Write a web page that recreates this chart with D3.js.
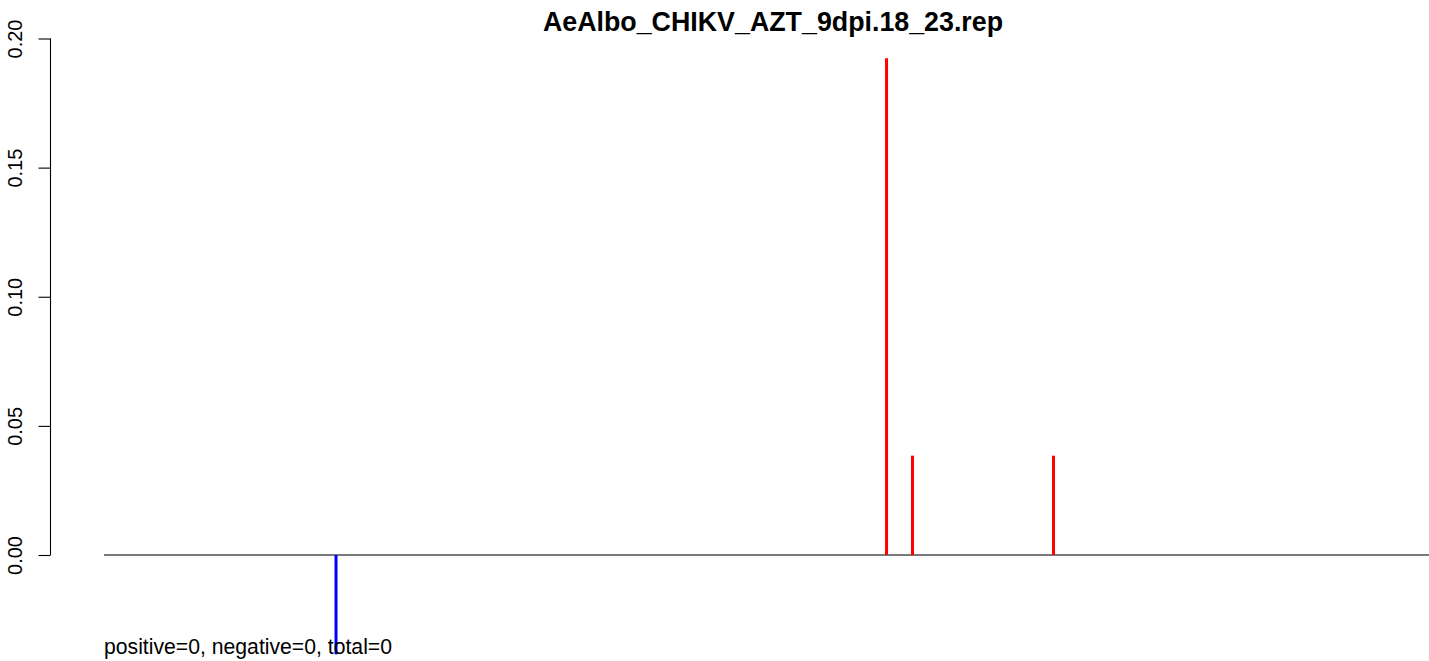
<!DOCTYPE html>
<html>
<head>
<meta charset="utf-8">
<script src="https://cdn.jsdelivr.net/npm/d3@7"></script>
<style>
  html, body { margin: 0; padding: 0; background: #fff; }
  svg { display: block; }
</style>
</head>
<body>
<svg id="chart" width="1429" height="661"></svg>
<script>
// ---- data ----
const title = "AeAlbo_CHIKV_AZT_9dpi.18_23.rep";
const footer = "positive=0, negative=0, total=0";
const yTicks = [0.00, 0.05, 0.10, 0.15, 0.20];
const positivePositions = [590.6, 610.2, 716.6];
const positiveValues = [5 / 26, 1 / 26, 1 / 26];
const negativePositions = [175.1];
const negativeValues = [-1 / 26];
const xDomain = [0, 1000];
const yDomain = [0, 0.2];

// ---- layout ----
const svg = d3.select("#chart");
const x = d3.scaleLinear().domain(xDomain).range([104, 1429]);
const y = d3.scaleLinear().domain(yDomain).range([555, 38.5]);

// title
svg.append("text")
  .attr("x", 773).attr("y", 31)
  .attr("text-anchor", "middle")
  .attr("font-family", "Liberation Sans, Arial, sans-serif")
  .attr("font-weight", "bold")
  .attr("font-size", 26.8)
  .text(title);

// y axis
const yAxis = d3.axisLeft(y)
  .tickValues(yTicks)
  .tickSize(12)
  .tickPadding(0)
  .tickFormat(d3.format(".2f"));
const gy = svg.append("g").attr("transform", "translate(50.5,0)").call(yAxis);
gy.select(".domain").remove();
gy.append("line")
  .attr("x1", 0).attr("x2", 0)
  .attr("y1", y(0.2)).attr("y2", y(0))
  .attr("stroke", "#000").attr("stroke-width", 1.1);
gy.selectAll(".tick line").attr("stroke", "#000").attr("stroke-width", 1.1);
gy.selectAll(".tick text")
  .attr("font-family", "Liberation Sans, Arial, sans-serif")
  .attr("font-size", 20)
  .attr("fill", "#000")
  .attr("text-anchor", "middle")
  .attr("dy", 0)
  .attr("x", 0).attr("y", 0)
  .attr("transform", "translate(-28.5,0) rotate(-90)");

// zero line
svg.append("line")
  .attr("x1", x(xDomain[0])).attr("x2", x(xDomain[1]))
  .attr("y1", y(0)).attr("y2", y(0))
  .attr("stroke", "#4d4d4d").attr("stroke-width", 1.3);

// positive bars (red)
svg.append("g").selectAll("line")
  .data(positivePositions.map((p, i) => ({ p, v: positiveValues[i] })))
  .join("line")
  .attr("x1", d => x(d.p)).attr("x2", d => x(d.p))
  .attr("y1", y(0)).attr("y2", d => y(d.v))
  .attr("stroke", "#ff0000").attr("stroke-width", 3);

// negative bars (blue)
svg.append("g").selectAll("line")
  .data(negativePositions.map((p, i) => ({ p, v: negativeValues[i] })))
  .join("line")
  .attr("x1", d => x(d.p)).attr("x2", d => x(d.p))
  .attr("y1", y(0)).attr("y2", d => y(d.v))
  .attr("stroke", "#0000ff").attr("stroke-width", 3);

// footer
svg.append("text")
  .attr("x", 104).attr("y", 653.5)
  .attr("font-family", "Liberation Sans, Arial, sans-serif")
  .attr("font-size", 21.2)
  .attr("fill", "#000")
  .text(footer);
</script>
</body>
</html>
